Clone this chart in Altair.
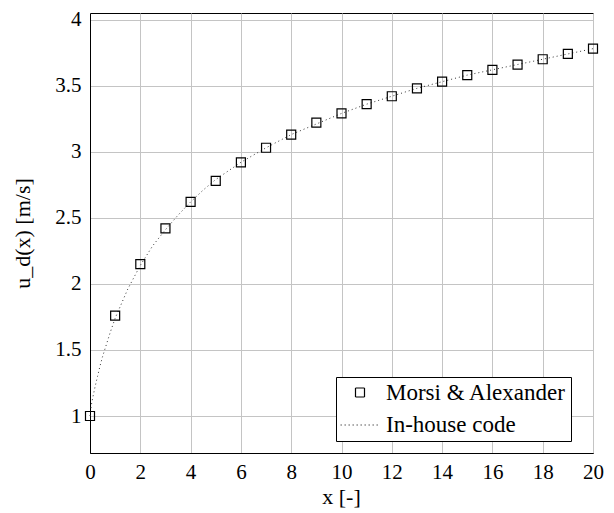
import altair as alt
import pandas as pd

# Reference data (Morsi & Alexander)
ref_x = [0, 1, 2, 3, 4, 5, 6, 7, 8, 9, 10, 11, 12, 13, 14, 15, 16, 17, 18, 19, 20]
ref_y = [1.00, 1.76, 2.15, 2.42, 2.62, 2.78, 2.92, 3.03, 3.13, 3.22, 3.29,
         3.36, 3.42, 3.48, 3.53, 3.58, 3.62, 3.66, 3.70, 3.74, 3.78]

# In-house code curve
code_x = [0, 0.05, 0.1, 0.2, 0.3, 0.4, 0.5, 0.6, 0.8, 1, 1.25, 1.5, 1.75, 2,
          2.5, 3, 3.5, 4, 4.5, 5, 6, 7, 8, 9, 10, 11, 12, 13, 14, 15, 16, 17,
          18, 19, 20]
code_y = [1.00, 1.08, 1.13, 1.22, 1.30, 1.38, 1.45, 1.51, 1.63, 1.74, 1.85,
          1.96, 2.05, 2.14, 2.29, 2.41, 2.52, 2.62, 2.71, 2.79, 2.92, 3.03,
          3.13, 3.21, 3.29, 3.36, 3.42, 3.48, 3.53, 3.58, 3.62, 3.66, 3.70,
          3.74, 3.78]

series_names = ["Morsi & Alexander", "In-house code"]
x_ticks = [0, 2, 4, 6, 8, 10, 12, 14, 16, 18, 20]
y_ticks = [1, 1.5, 2, 2.5, 3, 3.5, 4]

FONT = "Liberation Serif"

df_ref = pd.DataFrame({"x": ref_x, "y": ref_y, "series": series_names[0]})
df_code = pd.DataFrame({"x": code_x, "y": code_y, "series": series_names[1]})

x_enc = alt.X("x:Q", scale=alt.Scale(domain=[0, 20], nice=False, zero=False),
              axis=alt.Axis(values=x_ticks, format="~g", title="x [-]",
                            titleX=251, titleY=43,
                            titleBaseline="middle", labelFlush=False,
                            labelFont=FONT, labelFontSize=21, titleFont=FONT,
                            titleFontSize=22, labelPadding=8))
y_enc = alt.Y("y:Q", scale=alt.Scale(domain=[0.72, 4.05], nice=False, zero=False),
              axis=alt.Axis(values=y_ticks, format="~g", title="u_d(x) [m/s]",
                            titleX=-68, titleY=220, titleAngle=-90,
                            titleBaseline="middle", labelFlush=False,
                            labelFont=FONT, labelFontSize=21,
                            titleFont=FONT, titleFontSize=22, labelPadding=9))

line = alt.Chart(df_code).mark_line(color="#333333", strokeWidth=1).encode(
    x=x_enc, y=y_enc,
    strokeDash=alt.StrokeDash("series:N",
                              scale=alt.Scale(domain=series_names, range=[[1, 0], [1, 3]]),
                              legend=alt.Legend(title=None)),
)

points = alt.Chart(df_ref).mark_point(filled=False, color="black", strokeWidth=1.2,
                                      opacity=1).encode(
    x=x_enc, y=y_enc,
    shape=alt.Shape("series:N",
                    scale=alt.Scale(domain=series_names, range=["square", "stroke"]),
                    legend=alt.Legend(title=None)),
    size=alt.Size("series:N",
                  scale=alt.Scale(domain=series_names, range=[81, 1500]),
                  legend=alt.Legend(title=None)),
)

chart = alt.layer(line, points).properties(
    width=503, height=440,
    autosize=alt.AutoSizeParams(type="none"),
    padding={"left": 82, "top": 5, "right": 13, "bottom": 55},
).configure_view(
    stroke="black", strokeWidth=1
).configure_axis(
    labelFont=FONT, labelFontSize=21, labelColor="black",
    titleFont=FONT, titleFontSize=22, titleColor="black", titleFontWeight="normal",
    gridColor="#c4c4c4", gridWidth=1, ticks=False,
    domainColor="black", domainWidth=1,
).configure_legend(
    orient="none", legendX=246, legendY=364,
    strokeColor="black", fillColor="white", padding=4,
    labelFont=FONT, labelFontSize=23, labelColor="black", labelOffset=6,
    symbolStrokeColor="black", symbolStrokeWidth=1.2, rowPadding=0,
    labelLimit=400,
)

chart.save("out.html", embed_options={"renderer": "svg", "actions": False})
